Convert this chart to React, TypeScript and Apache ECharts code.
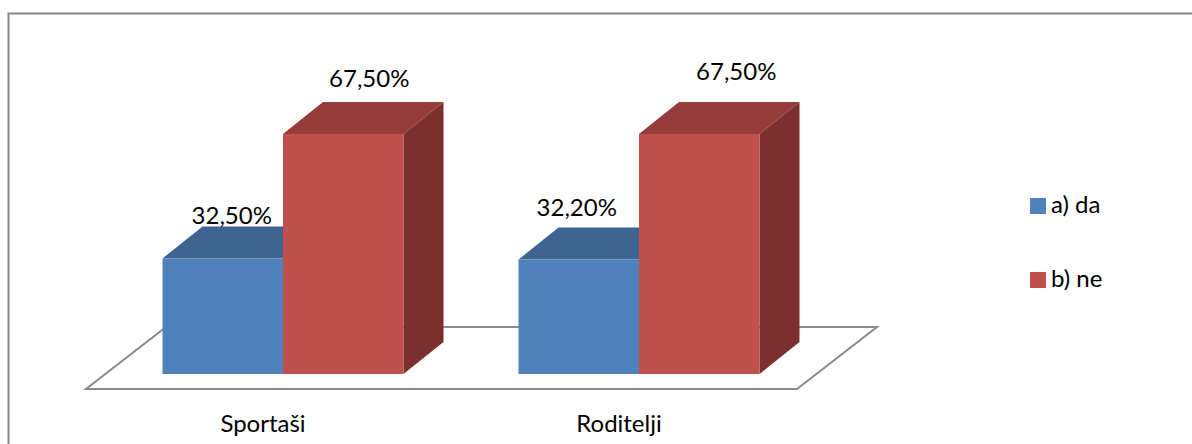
import React, { useEffect, useRef } from "react";
import * as echarts from "echarts";

const categories = ["Sportaši", "Roditelji"];
const seriesA = [32.5, 32.2];
const seriesB = [67.5, 67.5];
const seriesAName = "a) da";
const seriesBName = "b) ne";
const labelsA = ["32,50%", "32,20%"];
const labelsB = ["67,50%", "67,50%"];

const FONT = "Lato";
const FONT_SIZE = 24;
const DEPTH_X = 40;
const DEPTH_Y = 32;
const BAR_W = 120.5;
const BAR_SHIFT = 20;

const colorsA = { front: "#4F81BD", top: "#3E6491", side: "#325076" };
const colorsB = { front: "#C0504D", top: "#953B39", side: "#7B302E" };

function makeRenderer(
  slot: number,
  c: { front: string; top: string; side: string },
  labels: string[],
  labelDx: number[],
  labelDy: number[],
) {
  return (params: any, api: any) => {
    const idx = api.value(0);
    const val = api.value(1);
    const base = api.coord([idx, 0]);
    const top = api.coord([idx, val]);
    const x0 = base[0] + BAR_SHIFT + (slot === 0 ? -BAR_W : 0);
    const x1 = x0 + BAR_W;
    const y0 = base[1];
    const y1 = top[1];
    const dx = DEPTH_X;
    const dy = DEPTH_Y;
    return {
      type: "group",
      children: [
        {
          type: "polygon",
          shape: { points: [[x1, y1], [x1 + dx, y1 - dy], [x1 + dx, y0 - dy], [x1, y0]] },
          style: { fill: c.side },
        },
        {
          type: "polygon",
          shape: { points: [[x0, y1], [x0 + dx, y1 - dy], [x1 + dx, y1 - dy], [x1, y1]] },
          style: { fill: c.top },
        },
        {
          type: "rect",
          shape: { x: x0, y: y1, width: BAR_W, height: y0 - y1 },
          style: { fill: c.front },
        },
        {
          type: "text",
          z2: 10,
          style: {
            text: labels[idx],
            x: (x0 + x1) / 2 + labelDx[idx],
            y: y1 + labelDy[idx],
            align: "center",
            verticalAlign: "middle",
            fill: "#000000",
            font: `${FONT_SIZE}px "${FONT}"`,
          },
        },
      ],
    };
  };
}

export default function App() {
  const ref = useRef<HTMLDivElement>(null);
  useEffect(() => {
    document.body.style.margin = "0";
    const chart = echarts.init(ref.current!, undefined, { renderer: "svg" });
    chart.setOption({
      animation: false,
      backgroundColor: "#ffffff",
      grid: { left: 85, width: 712, top: 18.4, height: 355.6 },
      xAxis: {
        type: "category",
        data: categories,
        axisLine: { show: false },
        axisTick: { show: false },
        axisLabel: { margin: 36, color: "#000000", fontFamily: FONT, fontSize: FONT_SIZE },
      },
      yAxis: { type: "value", min: 0, max: 100, show: false },
      legend: {
        orient: "vertical",
        left: 1025,
        top: 186,
        itemWidth: 16,
        itemHeight: 16,
        itemGap: 50,
        icon: "rect",
        formatter: (name: string) => `{t|${name}}`,
        textStyle: {
          color: "#000000",
          fontFamily: FONT,
          fontSize: FONT_SIZE,
          rich: {
            t: { color: "#000000", fontFamily: FONT, fontSize: FONT_SIZE, padding: [0, 0, 6, 0] },
          },
        },
        data: [
          { name: seriesAName, itemStyle: { color: colorsA.front } },
          { name: seriesBName, itemStyle: { color: colorsB.front } },
        ],
      },
      graphic: [
        {
          type: "rect",
          z: 0,
          silent: true,
          shape: { x: 8.5, y: 13.5, width: 1200, height: 450 },
          style: { fill: "#ffffff", stroke: "#868686", lineWidth: 2 },
        },
        {
          type: "polygon",
          z: 1,
          silent: true,
          shape: { points: [[86, 389], [797, 389], [877, 327], [166, 327]] },
          style: { fill: "#ffffff", stroke: "#8A8A8A", lineWidth: 2 },
        },
      ],
      series: [
        {
          type: "custom",
          name: seriesAName,
          z: 3,
          itemStyle: { color: colorsA.front },
          encode: { x: 0, y: 1 },
          data: seriesA.map((v, i) => [i, v]),
          renderItem: makeRenderer(0, colorsA, labelsA, [9, -2], [-44, -53]),
        },
        {
          type: "custom",
          name: seriesBName,
          z: 4,
          itemStyle: { color: colorsB.front },
          encode: { x: 0, y: 1 },
          data: seriesB.map((v, i) => [i, v]),
          renderItem: makeRenderer(1, colorsB, labelsB, [26, 37], [-56, -63]),
        },
      ],
    });
    return () => chart.dispose();
  }, []);
  return <div ref={ref} style={{ width: 1192, height: 444 }} />;
}
